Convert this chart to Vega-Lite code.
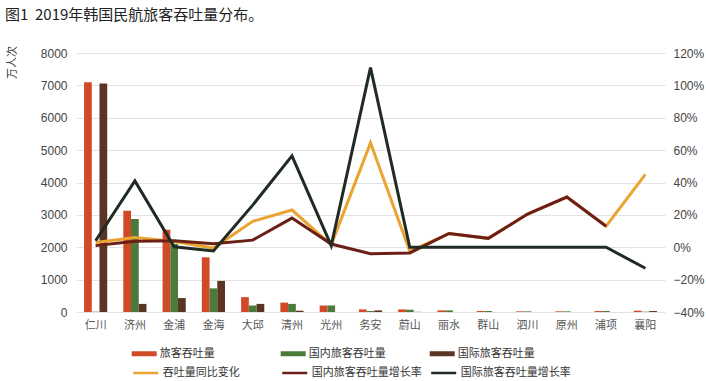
{
  "$schema": "https://vega.github.io/schema/vega-lite/v6.json",
  "width": 589,
  "height": 259,
  "autosize": {"type": "none"},
  "padding": {"left": 76, "top": 53, "right": 41, "bottom": 69},
  "background": "white",
  "title": {
    "text": "图1\u00a0\u00a02019年韩国民航旅客吞吐量分布。",
    "anchor": "start",
    "frame": "group",
    "dx": -71,
    "dy": -19,
    "fontSize": 15,
    "fontWeight": "normal",
    "font": "Noto Sans CJK SC",
    "color": "#222222"
  },
  "datasets": {
    "bars": [
      {"city": "仁川", "series": "旅客吞吐量", "value": 7100},
      {"city": "仁川", "series": "国内旅客吞吐量", "value": 10},
      {"city": "仁川", "series": "国际旅客吞吐量", "value": 7060},
      {"city": "济州", "series": "旅客吞吐量", "value": 3130},
      {"city": "济州", "series": "国内旅客吞吐量", "value": 2870},
      {"city": "济州", "series": "国际旅客吞吐量", "value": 250},
      {"city": "金浦", "series": "旅客吞吐量", "value": 2540},
      {"city": "金浦", "series": "国内旅客吞吐量", "value": 2100},
      {"city": "金浦", "series": "国际旅客吞吐量", "value": 430},
      {"city": "金海", "series": "旅客吞吐量", "value": 1690},
      {"city": "金海", "series": "国内旅客吞吐量", "value": 730},
      {"city": "金海", "series": "国际旅客吞吐量", "value": 960},
      {"city": "大邱", "series": "旅客吞吐量", "value": 460},
      {"city": "大邱", "series": "国内旅客吞吐量", "value": 200},
      {"city": "大邱", "series": "国际旅客吞吐量", "value": 250},
      {"city": "清州", "series": "旅客吞吐量", "value": 290},
      {"city": "清州", "series": "国内旅客吞吐量", "value": 250},
      {"city": "清州", "series": "国际旅客吞吐量", "value": 40},
      {"city": "光州", "series": "旅客吞吐量", "value": 200},
      {"city": "光州", "series": "国内旅客吞吐量", "value": 200},
      {"city": "光州", "series": "国际旅客吞吐量", "value": 0},
      {"city": "务安", "series": "旅客吞吐量", "value": 80},
      {"city": "务安", "series": "国内旅客吞吐量", "value": 30},
      {"city": "务安", "series": "国际旅客吞吐量", "value": 50},
      {"city": "蔚山", "series": "旅客吞吐量", "value": 80},
      {"city": "蔚山", "series": "国内旅客吞吐量", "value": 70},
      {"city": "蔚山", "series": "国际旅客吞吐量", "value": 5},
      {"city": "丽水", "series": "旅客吞吐量", "value": 50},
      {"city": "丽水", "series": "国内旅客吞吐量", "value": 50},
      {"city": "丽水", "series": "国际旅客吞吐量", "value": 0},
      {"city": "群山", "series": "旅客吞吐量", "value": 30},
      {"city": "群山", "series": "国内旅客吞吐量", "value": 30},
      {"city": "群山", "series": "国际旅客吞吐量", "value": 0},
      {"city": "泗川", "series": "旅客吞吐量", "value": 20},
      {"city": "泗川", "series": "国内旅客吞吐量", "value": 20},
      {"city": "泗川", "series": "国际旅客吞吐量", "value": 0},
      {"city": "原州", "series": "旅客吞吐量", "value": 20},
      {"city": "原州", "series": "国内旅客吞吐量", "value": 20},
      {"city": "原州", "series": "国际旅客吞吐量", "value": 0},
      {"city": "浦项", "series": "旅客吞吐量", "value": 30},
      {"city": "浦项", "series": "国内旅客吞吐量", "value": 30},
      {"city": "浦项", "series": "国际旅客吞吐量", "value": 0},
      {"city": "襄阳", "series": "旅客吞吐量", "value": 40},
      {"city": "襄阳", "series": "国内旅客吞吐量", "value": 10},
      {"city": "襄阳", "series": "国际旅客吞吐量", "value": 30}
    ],
    "rates": [
      {"city": "仁川", "series": "吞吐量同比变化", "rate": 0.03},
      {"city": "济州", "series": "吞吐量同比变化", "rate": 0.06},
      {"city": "金浦", "series": "吞吐量同比变化", "rate": 0.035},
      {"city": "金海", "series": "吞吐量同比变化", "rate": -0.005},
      {"city": "大邱", "series": "吞吐量同比变化", "rate": 0.16},
      {"city": "清州", "series": "吞吐量同比变化", "rate": 0.23},
      {"city": "光州", "series": "吞吐量同比变化", "rate": 0.015},
      {"city": "务安", "series": "吞吐量同比变化", "rate": 0.645},
      {"city": "蔚山", "series": "吞吐量同比变化", "rate": -0.025},
      {"city": "丽水", "series": "吞吐量同比变化", "rate": 0.085},
      {"city": "群山", "series": "吞吐量同比变化", "rate": 0.055},
      {"city": "泗川", "series": "吞吐量同比变化", "rate": 0.205},
      {"city": "原州", "series": "吞吐量同比变化", "rate": 0.31},
      {"city": "浦项", "series": "吞吐量同比变化", "rate": 0.13},
      {"city": "襄阳", "series": "吞吐量同比变化", "rate": 0.45},
      {"city": "仁川", "series": "国内旅客吞吐量增长率", "rate": 0.01},
      {"city": "济州", "series": "国内旅客吞吐量增长率", "rate": 0.037},
      {"city": "金浦", "series": "国内旅客吞吐量增长率", "rate": 0.04},
      {"city": "金海", "series": "国内旅客吞吐量增长率", "rate": 0.022},
      {"city": "大邱", "series": "国内旅客吞吐量增长率", "rate": 0.044},
      {"city": "清州", "series": "国内旅客吞吐量增长率", "rate": 0.18},
      {"city": "光州", "series": "国内旅客吞吐量增长率", "rate": 0.02},
      {"city": "务安", "series": "国内旅客吞吐量增长率", "rate": -0.04},
      {"city": "蔚山", "series": "国内旅客吞吐量增长率", "rate": -0.035},
      {"city": "丽水", "series": "国内旅客吞吐量增长率", "rate": 0.085},
      {"city": "群山", "series": "国内旅客吞吐量增长率", "rate": 0.055},
      {"city": "泗川", "series": "国内旅客吞吐量增长率", "rate": 0.205},
      {"city": "原州", "series": "国内旅客吞吐量增长率", "rate": 0.31},
      {"city": "浦项", "series": "国内旅客吞吐量增长率", "rate": 0.13},
      {"city": "仁川", "series": "国际旅客吞吐量增长率", "rate": 0.04},
      {"city": "济州", "series": "国际旅客吞吐量增长率", "rate": 0.41},
      {"city": "金浦", "series": "国际旅客吞吐量增长率", "rate": 0.003},
      {"city": "金海", "series": "国际旅客吞吐量增长率", "rate": -0.023},
      {"city": "大邱", "series": "国际旅客吞吐量增长率", "rate": 0.26},
      {"city": "清州", "series": "国际旅客吞吐量增长率", "rate": 0.565},
      {"city": "光州", "series": "国际旅客吞吐量增长率", "rate": 0.01},
      {"city": "务安", "series": "国际旅客吞吐量增长率", "rate": 1.11},
      {"city": "蔚山", "series": "国际旅客吞吐量增长率", "rate": 0.0},
      {"city": "丽水", "series": "国际旅客吞吐量增长率", "rate": 0.0},
      {"city": "群山", "series": "国际旅客吞吐量增长率", "rate": 0.0},
      {"city": "泗川", "series": "国际旅客吞吐量增长率", "rate": 0.0},
      {"city": "原州", "series": "国际旅客吞吐量增长率", "rate": 0.0},
      {"city": "浦项", "series": "国际旅客吞吐量增长率", "rate": 0.0},
      {"city": "襄阳", "series": "国际旅客吞吐量增长率", "rate": -0.13}
    ]
  },
  "layer": [
    {
      "data": {"name": "bars"},
      "mark": {"type": "bar"},
      "encoding": {
        "x": {
          "field": "city", "type": "nominal", "sort": null,
          "scale": {"paddingInner": 0.41, "paddingOuter": 0.205},
          "axis": {"title": null, "labelAngle": 0, "domain": false, "ticks": false, "labelPadding": 7, "labelFontSize": 11, "labelColor": "#555555"}
        },
        "xOffset": {
          "field": "series", "type": "nominal",
          "scale": {"domain": ["旅客吞吐量", "国内旅客吞吐量", "国际旅客吞吐量"], "paddingInner": 0, "paddingOuter": 0}
        },
        "y": {
          "field": "value", "type": "quantitative",
          "scale": {"domain": [0, 8000], "nice": false},
          "axis": {
            "title": "万人次", "titleX": -64, "titleY": 9, "titleAngle": -90, "titleAlign": "center", "titleBaseline": "middle",
            "titleFontSize": 11, "titleFontWeight": "normal", "titleColor": "#333333", "titleFont": "Noto Sans CJK SC",
            "values": [0, 1000, 2000, 3000, 4000, 5000, 6000, 7000, 8000], "format": "d", "labelOverlap": false,
            "grid": true, "gridColor": "#e2e2e2", "domain": false, "ticks": false,
            "labelPadding": 9, "labelFontSize": 12, "labelColor": "#444444"
          }
        },
        "color": {
          "field": "series", "type": "nominal",
          "scale": {"domain": ["旅客吞吐量", "国内旅客吞吐量", "国际旅客吞吐量"], "range": ["#d04a26", "#4b7a3a", "#5b3524"]},
          "legend": {
            "orient": "none", "legendX": 55.7, "legendY": 288, "direction": "horizontal", "columns": 3,
            "title": null, "symbolType": "M-1,-0.2H1V0.2H-1Z", "symbolSize": 625, "symbolStrokeWidth": 0,
            "labelFontSize": 11, "labelOffset": 3, "columnPadding": 44, "gridAlign": "all", "padding": 0
          }
        }
      }
    },
    {
      "data": {"name": "rates"},
      "layer": [
        {
          "transform": [{"filter": "datum.series === '吞吐量同比变化'"}],
          "mark": {"type": "line", "strokeWidth": 3},
          "encoding": {
            "x": {"field": "city", "type": "nominal", "sort": null},
            "y": {
              "field": "rate", "type": "quantitative",
              "scale": {"domain": [-0.4, 1.2], "nice": false},
              "axis": {
                "orient": "right", "title": null, "format": ".0%", "labelOverlap": false,
                "values": [-0.4, -0.2, 0, 0.2, 0.4, 0.6, 0.8, 1.0, 1.2],
                "grid": false, "domain": false, "ticks": false,
                "labelPadding": 8, "labelFontSize": 12, "labelColor": "#444444"
              }
            },
            "stroke": {"field": "series", "type": "nominal"}
          }
        },
        {
          "transform": [{"filter": "datum.series === '国内旅客吞吐量增长率'"}],
          "mark": {"type": "line", "strokeWidth": 3},
          "encoding": {
            "x": {"field": "city", "type": "nominal", "sort": null},
            "y": {
              "field": "rate", "type": "quantitative",
              "axis": {
                "orient": "right", "title": null, "format": ".0%", "labelOverlap": false,
                "values": [-0.4, -0.2, 0, 0.2, 0.4, 0.6, 0.8, 1.0, 1.2],
                "grid": false, "domain": false, "ticks": false,
                "labelPadding": 8, "labelFontSize": 12, "labelColor": "#444444"
              }
            },
            "stroke": {"field": "series", "type": "nominal"}
          }
        },
        {
          "transform": [{"filter": "datum.series === '国际旅客吞吐量增长率'"}],
          "mark": {"type": "line", "strokeWidth": 3},
          "encoding": {
            "x": {"field": "city", "type": "nominal", "sort": null},
            "y": {
              "field": "rate", "type": "quantitative",
              "axis": {
                "orient": "right", "title": null, "format": ".0%", "labelOverlap": false,
                "values": [-0.4, -0.2, 0, 0.2, 0.4, 0.6, 0.8, 1.0, 1.2],
                "grid": false, "domain": false, "ticks": false,
                "labelPadding": 8, "labelFontSize": 12, "labelColor": "#444444"
              }
            },
            "stroke": {
              "field": "series", "type": "nominal",
              "scale": {"domain": ["吞吐量同比变化", "国内旅客吞吐量增长率", "国际旅客吞吐量增长率"], "range": ["#eba331", "#6b1f17", "#1f2b23"]},
              "legend": {
                "orient": "none", "legendX": 55.7, "legendY": 306, "direction": "horizontal", "columns": 3,
                "title": null, "symbolType": "stroke", "symbolSize": 625, "symbolStrokeWidth": 2.5,
                "labelFontSize": 11, "labelOffset": 3, "columnPadding": 4, "gridAlign": "all", "padding": 0
              }
            }
          }
        }
      ]
    }
  ],
  "resolve": {"scale": {"y": "independent"}},
  "config": {
    "view": {"stroke": null},
    "font": "Liberation Sans, Noto Sans CJK SC",
    "axis": {"labelFont": "Liberation Sans, Noto Sans CJK SC"},
    "legend": {"labelFont": "Noto Sans CJK SC", "labelColor": "#333333"}
  }
}
